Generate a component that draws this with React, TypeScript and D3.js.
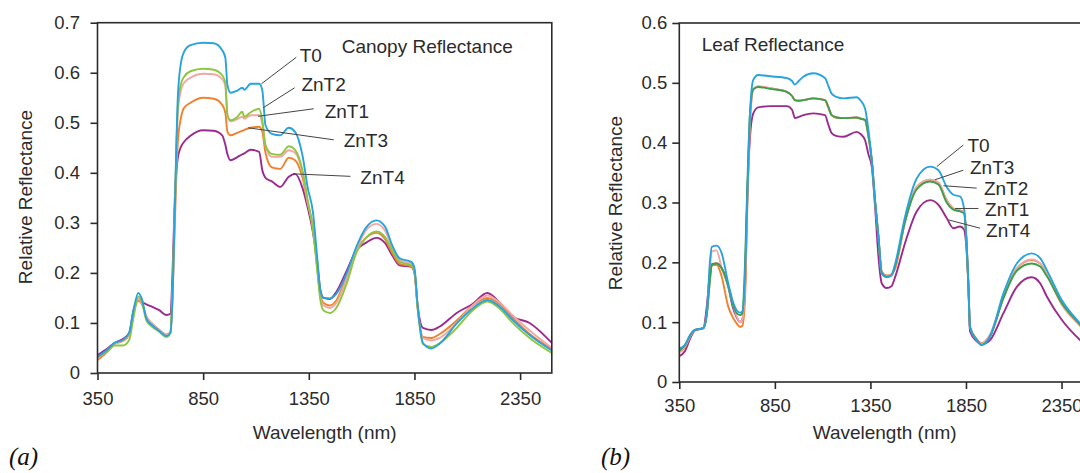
import React, { useEffect, useRef } from "react";
import * as d3 from "d3";

// ---------- data ----------
const SERIES = ["T0", "ZnT1", "ZnT2", "ZnT3", "ZnT4"];
const X_TICKS = [350, 850, 1350, 1850, 2350];
const CANOPY_Y_TICKS = [0, 0.1, 0.2, 0.3, 0.4, 0.5, 0.6, 0.7];
const LEAF_Y_TICKS = [0, 0.1, 0.2, 0.3, 0.4, 0.5, 0.6];

const CANOPY_WL = [350, 400, 430, 470, 500, 520, 543, 560, 582, 610, 640, 677, 695, 705, 716, 730, 745, 760, 790, 850, 900, 940, 955, 965, 980, 1010, 1035, 1045, 1075, 1115, 1130, 1145, 1175, 1215, 1255, 1285, 1320, 1345, 1370, 1390, 1405, 1420, 1450, 1480, 1530, 1575, 1620, 1670, 1710, 1745, 1780, 1835, 1850, 1865, 1890, 1930, 1970, 2050, 2125, 2195, 2255, 2315, 2395, 2500];
const CANOPY_T0 = [0.032, 0.048, 0.06, 0.066, 0.08, 0.125, 0.16, 0.148, 0.108, 0.095, 0.085, 0.074, 0.08, 0.15, 0.33, 0.55, 0.62, 0.642, 0.655, 0.66, 0.659, 0.645, 0.63, 0.575, 0.56, 0.564, 0.57, 0.566, 0.578, 0.578, 0.565, 0.495, 0.478, 0.475, 0.49, 0.482, 0.435, 0.37, 0.32, 0.23, 0.165, 0.15, 0.149, 0.158, 0.2, 0.252, 0.29, 0.305, 0.293, 0.255, 0.229, 0.222, 0.21, 0.135, 0.06, 0.049, 0.059, 0.099, 0.129, 0.146, 0.132, 0.106, 0.076, 0.045];
const CANOPY_ZNT1 = [0.03, 0.046, 0.058, 0.065, 0.078, 0.12, 0.148, 0.14, 0.112, 0.098, 0.087, 0.076, 0.082, 0.15, 0.32, 0.52, 0.565, 0.58, 0.59, 0.598, 0.597, 0.587, 0.575, 0.515, 0.503, 0.507, 0.512, 0.508, 0.515, 0.515, 0.498, 0.455, 0.432, 0.432, 0.445, 0.44, 0.4, 0.34, 0.29, 0.21, 0.15, 0.135, 0.13, 0.14, 0.19, 0.245, 0.285, 0.298, 0.285, 0.25, 0.225, 0.218, 0.205, 0.13, 0.07, 0.065, 0.07, 0.1, 0.135, 0.155, 0.14, 0.115, 0.085, 0.05];
const CANOPY_ZNT2 = [0.032, 0.045, 0.055, 0.055, 0.066, 0.11, 0.153, 0.142, 0.104, 0.092, 0.083, 0.072, 0.08, 0.17, 0.33, 0.53, 0.578, 0.592, 0.603, 0.608, 0.606, 0.595, 0.58, 0.515, 0.505, 0.511, 0.522, 0.512, 0.521, 0.528, 0.505, 0.455, 0.438, 0.436, 0.453, 0.446, 0.405, 0.345, 0.285, 0.205, 0.145, 0.125, 0.12, 0.13, 0.18, 0.24, 0.27, 0.283, 0.272, 0.245, 0.222, 0.215, 0.205, 0.13, 0.058, 0.052, 0.06, 0.09, 0.125, 0.143, 0.128, 0.1, 0.07, 0.04];
const CANOPY_ZNT3 = [0.026, 0.044, 0.058, 0.064, 0.076, 0.118, 0.145, 0.138, 0.112, 0.098, 0.087, 0.077, 0.082, 0.15, 0.3, 0.46, 0.51, 0.53, 0.54, 0.55, 0.548, 0.536, 0.52, 0.482, 0.475, 0.48, 0.484, 0.486, 0.49, 0.492, 0.482, 0.44, 0.411, 0.408, 0.43, 0.425, 0.39, 0.34, 0.29, 0.21, 0.155, 0.14, 0.135, 0.145, 0.195, 0.245, 0.27, 0.28, 0.268, 0.24, 0.218, 0.213, 0.203, 0.13, 0.072, 0.07, 0.078, 0.105, 0.135, 0.15, 0.137, 0.11, 0.078, 0.048];
const CANOPY_ZNT4 = [0.036, 0.05, 0.06, 0.068, 0.08, 0.125, 0.145, 0.142, 0.137, 0.132, 0.126, 0.116, 0.118, 0.2, 0.35, 0.43, 0.452, 0.462, 0.474, 0.485, 0.484, 0.475, 0.456, 0.437, 0.425, 0.431, 0.437, 0.439, 0.446, 0.442, 0.405, 0.39, 0.383, 0.372, 0.392, 0.398, 0.37, 0.33, 0.28, 0.22, 0.165, 0.15, 0.148, 0.162, 0.205, 0.245, 0.26, 0.27, 0.26, 0.235, 0.215, 0.212, 0.2, 0.135, 0.09, 0.086, 0.093, 0.12, 0.138, 0.16, 0.14, 0.113, 0.1, 0.06];

const LEAF_WL = [350, 380, 410, 432, 476, 495, 510, 520, 545, 572, 606, 630, 650, 668, 680, 694, 705, 720, 737, 763, 825, 912, 940, 955, 975, 999, 1051, 1112, 1130, 1147, 1175, 1208, 1278, 1300, 1322, 1340, 1357, 1375, 1392, 1409, 1435, 1460, 1480, 1531, 1592, 1662, 1706, 1749, 1784, 1819, 1840, 1852, 1863, 1871, 1906, 1932, 1976, 2046, 2116, 2194, 2238, 2273, 2351, 2447, 2500];
const LEAF_T0 = [0.056, 0.062, 0.08, 0.087, 0.09, 0.12, 0.2, 0.226, 0.228, 0.215, 0.165, 0.135, 0.12, 0.116, 0.118, 0.18, 0.3, 0.45, 0.505, 0.513, 0.511, 0.508, 0.503, 0.497, 0.503, 0.51, 0.516, 0.508, 0.495, 0.482, 0.476, 0.474, 0.476, 0.47, 0.457, 0.42, 0.371, 0.3, 0.243, 0.182, 0.175, 0.178, 0.198, 0.276, 0.34, 0.36, 0.354, 0.326, 0.313, 0.31, 0.29, 0.24, 0.159, 0.092, 0.07, 0.062, 0.076, 0.148, 0.198, 0.215, 0.207, 0.187, 0.137, 0.098, 0.08];
const LEAF_ZNT1 = [0.05, 0.06, 0.078, 0.087, 0.09, 0.115, 0.19, 0.218, 0.22, 0.19, 0.16, 0.13, 0.11, 0.1, 0.105, 0.17, 0.3, 0.44, 0.488, 0.494, 0.491, 0.485, 0.478, 0.471, 0.47, 0.471, 0.474, 0.471, 0.46, 0.446, 0.442, 0.441, 0.442, 0.44, 0.438, 0.41, 0.371, 0.3, 0.243, 0.182, 0.177, 0.18, 0.195, 0.268, 0.326, 0.338, 0.333, 0.304, 0.29, 0.287, 0.283, 0.24, 0.159, 0.092, 0.07, 0.064, 0.08, 0.14, 0.19, 0.205, 0.198, 0.18, 0.13, 0.095, 0.078];
const LEAF_ZNT2 = [0.052, 0.062, 0.08, 0.087, 0.09, 0.115, 0.17, 0.196, 0.198, 0.19, 0.16, 0.13, 0.115, 0.112, 0.115, 0.2, 0.32, 0.45, 0.489, 0.493, 0.49, 0.485, 0.478, 0.471, 0.47, 0.471, 0.474, 0.471, 0.46, 0.446, 0.442, 0.441, 0.442, 0.44, 0.438, 0.41, 0.371, 0.3, 0.243, 0.182, 0.176, 0.178, 0.195, 0.268, 0.322, 0.335, 0.33, 0.3, 0.288, 0.285, 0.282, 0.24, 0.159, 0.092, 0.07, 0.062, 0.076, 0.14, 0.186, 0.198, 0.193, 0.177, 0.132, 0.096, 0.078];
const LEAF_ZNT3 = [0.05, 0.058, 0.078, 0.087, 0.09, 0.118, 0.17, 0.195, 0.196, 0.176, 0.126, 0.108, 0.098, 0.092, 0.094, 0.14, 0.28, 0.43, 0.49, 0.494, 0.491, 0.485, 0.478, 0.471, 0.47, 0.471, 0.474, 0.471, 0.458, 0.446, 0.441, 0.441, 0.442, 0.44, 0.437, 0.41, 0.371, 0.3, 0.243, 0.185, 0.178, 0.18, 0.19, 0.268, 0.326, 0.338, 0.333, 0.304, 0.29, 0.287, 0.283, 0.24, 0.159, 0.092, 0.072, 0.065, 0.078, 0.142, 0.19, 0.204, 0.198, 0.18, 0.13, 0.094, 0.077];
const LEAF_ZNT4 = [0.043, 0.052, 0.075, 0.086, 0.09, 0.13, 0.18, 0.197, 0.198, 0.19, 0.16, 0.125, 0.108, 0.1, 0.105, 0.16, 0.3, 0.41, 0.449, 0.459, 0.461, 0.461, 0.455, 0.441, 0.443, 0.446, 0.449, 0.446, 0.43, 0.416, 0.411, 0.41, 0.418, 0.414, 0.404, 0.38, 0.36, 0.29, 0.21, 0.165, 0.157, 0.16, 0.176, 0.232, 0.285, 0.304, 0.296, 0.274, 0.257, 0.26, 0.255, 0.225, 0.159, 0.085, 0.068, 0.063, 0.07, 0.115, 0.159, 0.175, 0.165, 0.143, 0.104, 0.07, 0.055];

// label annotations (data units): anchor on curve, leader end, text start
const CANOPY_NOTES = [
  { name: "T0", ax: 1126, ay: 0.578, lx: 1291, ly: 0.631, tx: 1307, ty: 0.622 },
  { name: "ZnT2", ax: 1134, ay: 0.53, lx: 1283, ly: 0.57, tx: 1315, ty: 0.563 },
  { name: "ZnT1", ax: 1110, ay: 0.513, lx: 1373, ly: 0.528, tx: 1425, ty: 0.51 },
  { name: "ZnT3", ax: 1063, ay: 0.49, lx: 1468, ly: 0.466, tx: 1515, ty: 0.451 },
  { name: "ZnT4", ax: 1275, ay: 0.398, lx: 1547, ly: 0.393, tx: 1594, ty: 0.378 },
];
const LEAF_NOTES = [
  { name: "T0", ax: 1697, ay: 0.36, lx: 1836, ly: 0.396, tx: 1858, ty: 0.384 },
  { name: "ZnT3", ax: 1688, ay: 0.338, lx: 1836, ly: 0.354, tx: 1871, ty: 0.348 },
  { name: "ZnT2", ax: 1732, ay: 0.328, lx: 1906, ly: 0.324, tx: 1944, ty: 0.3125 },
  { name: "ZnT1", ax: 1793, ay: 0.29, lx: 1915, ly: 0.29, tx: 1950, ty: 0.278 },
  { name: "ZnT4", ax: 1758, ay: 0.271, lx: 1924, ly: 0.257, tx: 1955, ty: 0.242 },
];

const CANOPY_COLORS: Record<string, string> = { T0: "#28a3dc", ZnT1: "#f2a7a4", ZnT2: "#8dc63f", ZnT3: "#f0812e", ZnT4: "#9b2a8e" };
const LEAF_COLORS: Record<string, string> = { T0: "#28a3dc", ZnT1: "#f2a7a4", ZnT2: "#3d9e4c", ZnT3: "#f0812e", ZnT4: "#9b2a8e" };
const DRAW_ORDER = ["ZnT4", "ZnT3", "ZnT1", "ZnT2", "T0"];

const FONT = "'Liberation Sans', Arial, Helvetica, sans-serif";
const INK = "#2b2b2b";

type Panel = {
  wl: number[];
  values: Record<string, number[]>;
  colors: Record<string, string>;
  notes: typeof CANOPY_NOTES;
  yTicks: number[];
  yMax: number;
  left: number; right: number; top: number; bottom: number;
  yPad: number; xPad: number;
  title: string; titleX: number; titleY: number;
  yTitleX: number; yTitleY: number;
  tag: string; tagX: number;
};

function drawPanel(svg: d3.Selection<SVGSVGElement, unknown, null, undefined>, p: Panel) {
  const x = d3.scaleLinear().domain([350, 2500]).range([p.left, p.right]);
  const y = d3.scaleLinear().domain([0, p.yMax]).range([p.bottom, p.top]);
  const g = svg.append("g");

  const line = d3.line<number>().x((_, i) => x(p.wl[i])).y((d) => y(d)).curve(d3.curveMonotoneX);
  DRAW_ORDER.forEach((s) => {
    g.append("path").attr("d", line(p.values[s]) as string).attr("fill", "none")
      .attr("stroke", p.colors[s]).attr("stroke-width", 1.9).attr("stroke-linejoin", "round");
  });

  // frame
  g.append("rect").attr("x", p.left).attr("y", p.top).attr("width", p.right - p.left).attr("height", p.bottom - p.top)
    .attr("fill", "none").attr("stroke", INK).attr("stroke-width", 1.6);

  const ya = d3.axisLeft(y).tickValues(p.yTicks).tickSize(7).tickPadding(p.yPad)
    .tickFormat((d) => (+d === 0 ? "0" : d3.format(".1f")(+d)));
  const yg = g.append("g").attr("transform", `translate(${p.left},0)`).call(ya);
  const xa = d3.axisBottom(x).tickValues(X_TICKS).tickSize(7).tickPadding(p.xPad).tickFormat(d3.format("d"));
  const xg = g.append("g").attr("transform", `translate(0,${p.bottom})`).call(xa);
  [yg, xg].forEach((ax) => {
    ax.select(".domain").remove();
    ax.selectAll("line").attr("stroke", INK).attr("stroke-width", 1.6);
    ax.selectAll("text").attr("font-family", FONT).attr("font-size", 18.5).attr("fill", INK);
  });

  g.append("text").attr("x", (p.left + Math.min(p.right, 1090)) / 2).attr("y", 439).attr("text-anchor", "middle")
    .attr("font-family", FONT).attr("font-size", 19).attr("fill", INK).text("Wavelength (nm)");
  g.append("text").attr("transform", `translate(${p.yTitleX},${p.yTitleY}) rotate(-90)`).attr("text-anchor", "middle")
    .attr("font-family", FONT).attr("font-size", 19).attr("fill", INK).text("Relative Reflectance");
  g.append("text").attr("x", p.titleX).attr("y", p.titleY).attr("font-family", FONT).attr("font-size", 19)
    .attr("fill", INK).text(p.title);

  p.notes.forEach((n) => {
    g.append("line").attr("x1", x(n.ax)).attr("y1", y(n.ay)).attr("x2", x(n.lx)).attr("y2", y(n.ly))
      .attr("stroke", "#444").attr("stroke-width", 1);
    g.append("text").attr("x", x(n.tx)).attr("y", y(n.ty)).attr("font-family", FONT).attr("font-size", 19)
      .attr("fill", INK).text(n.name);
  });

  g.append("text").attr("x", p.tagX).attr("y", 465).attr("font-family", "'Liberation Serif', 'Times New Roman', serif")
    .attr("font-style", "italic").attr("font-size", 25).attr("fill", "#111").text(p.tag);
}

export default function App() {
  const ref = useRef<SVGSVGElement>(null);
  useEffect(() => {
    const svg = d3.select(ref.current as SVGSVGElement);
    svg.selectAll("*").remove();
    svg.append("rect").attr("width", 1080).attr("height", 473).attr("fill", "#fff");
    drawPanel(svg, {
      wl: CANOPY_WL,
      values: { T0: CANOPY_T0, ZnT1: CANOPY_ZNT1, ZnT2: CANOPY_ZNT2, ZnT3: CANOPY_ZNT3, ZnT4: CANOPY_ZNT4 },
      colors: CANOPY_COLORS, notes: CANOPY_NOTES, yTicks: CANOPY_Y_TICKS, yMax: 0.7,
      left: 97.5, right: 551.8, top: 22.7, bottom: 373, yPad: 10.5, xPad: 12,
      title: "Canopy Reflectance", titleX: 341.7, titleY: 53.3, yTitleX: 31.5, yTitleY: 197,
      tag: "(a)", tagX: 9,
    });
    drawPanel(svg, {
      wl: LEAF_WL,
      values: { T0: LEAF_T0, ZnT1: LEAF_ZNT1, ZnT2: LEAF_ZNT2, ZnT3: LEAF_ZNT3, ZnT4: LEAF_ZNT4 },
      colors: LEAF_COLORS, notes: LEAF_NOTES, yTicks: LEAF_Y_TICKS, yMax: 0.6,
      left: 679.3, right: 1090.2, top: 23, bottom: 382, yPad: 5, xPad: 9.5,
      title: "Leaf Reflectance", titleX: 701.7, titleY: 50.7, yTitleX: 621.5, yTitleY: 203,
      tag: "(b)", tagX: 601,
    });
  }, []);
  return (
    <svg ref={ref} width={1080} height={473} style={{ position: "absolute", left: 0, top: 0, display: "block" }} />
  );
}
